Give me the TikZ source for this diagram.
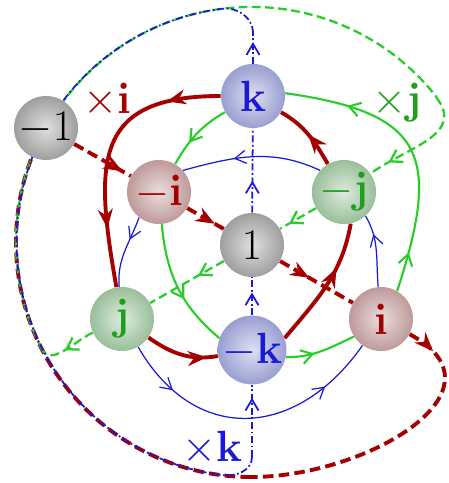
\documentclass[tikz,border=0pt]{standalone}
\usepackage{amsmath,amssymb}
\usetikzlibrary{arrows.meta,decorations.markings,backgrounds}

\definecolor{ired}{RGB}{165,0,0}
\definecolor{jgreen}{RGB}{40,205,40}
\definecolor{jtext}{RGB}{30,160,30}
\definecolor{kblue}{RGB}{25,25,215}
\definecolor{onegray}{RGB}{165,165,165}
\definecolor{iball}{RGB}{198,160,160}
\definecolor{jball}{RGB}{160,198,160}
\definecolor{kball}{RGB}{160,165,218}

\begin{document}
\begin{tikzpicture}[x=0.2mm,y=0.2mm,
  vertex/.style={circle,minimum size=12.8mm,inner sep=0pt,font=\fontsize{25}{25}\selectfont,inner color=#1!35!white,outer color=#1!96!black},
  lbl/.style={font=\fontsize{25}{25}\selectfont},
  ri/.style={ired,line width=2.2pt},
  rdash/.style={ired,line width=2.2pt,dash pattern=on 6pt off 3pt},
  gj/.style={jgreen,line width=1.2pt},
  gdash/.style={jgreen,line width=1.3pt,dash pattern=on 5pt off 2.5pt},
  bk/.style={kblue,line width=0.7pt},
  bdash/.style={kblue,line width=1pt,dash pattern=on 4pt off 1.5pt on 1pt off 1.5pt},
  rarr/.style={postaction={decorate,decoration={markings,mark=at position #1 with {\pgfsetdash{}{0pt}\arrow{Stealth[length=3.8mm,width=3mm]}}}}},
  garr/.style={postaction={decorate,decoration={markings,mark=at position #1 with {\pgfsetdash{}{0pt}\arrow{Straight Barb[length=2.2mm,width=2.8mm]}}}}},
  barr/.style={postaction={decorate,decoration={markings,mark=at position #1 with {\pgfsetdash{}{0pt}\arrow{Straight Barb[length=2.2mm,width=2.6mm]}}}}}]
	\useasboundingbox (-252,-238) rectangle (196,245);
	\node at (0,0) [vertex=onegray] (one) {$1$};
	\node at (1,149) [vertex=kball,text=kblue] (k) {$\mathbf{k}$};
	\node at (0,-105) [vertex=kball,text=kblue] (mk) {$-\mathbf{k}$};
	\node at (-206,117) [vertex=onegray] (m1) {$-1$};
	\node at (-93,53) [vertex=iball,text=ired] (mi) {$-\mathbf{i}$};
	\node at (129,-74) [vertex=iball,text=ired] (i) {$\mathbf{i}$};
	\node at (92,53) [vertex=jball,text=jtext] (mj) {$-\mathbf{j}$};
	\node at (-130,-74) [vertex=jball,text=jtext] (j) {$\mathbf{j}$};
	\node at (-145,145) [lbl,text=ired] (xi) {$\times\mathbf{i}$};
	\node at (145,142) [lbl,text=jtext] (xj) {$\times\mathbf{j}$};
	\node at (-40,-203) [lbl,text=kblue] (xk) {$\times\mathbf{k}$};
	% points on the outer circle, centre (-1,3), radius 235
	\coordinate (ktop) at (1,212);
	\coordinate (kbot) at (0,-212);
	\coordinate (bjoin) at (-29.6,236.3);
	\coordinate (gjoin) at (-210.4,-103.7);
	\coordinate (gturn) at (184.2,147.7);
	\coordinate (obot) at (-1,-232);
	\begin{pgfonlayer}{background}
	% outer returns to -1
	\draw[rdash,rarr=0.1] (i) to[out=-28,in=0,looseness=1.4] (obot);
	\draw[rdash] (obot) arc[start angle=270,end angle=151,radius=235];
	\draw[gdash,garr=0.55] (j) to[out=205,in=-63] (gjoin);
	\draw[gdash] (gjoin) arc[start angle=207,end angle=151,radius=235];
	\draw[gdash] (m1.center) arc[start angle=151,end angle=38,radius=235];
	\draw[gdash,garr=0.82] (gturn) to[out=-52,in=35,looseness=1.2] (mj);
	\draw[bdash,barr=0.7] (k) -- (ktop);
	\draw[bdash] (ktop) to[out=90,in=7] (bjoin) arc[start angle=97,end angle=151,radius=235];
	\draw[bdash] (m1.center) arc[start angle=151,end angle=263,radius=235] to[out=-7,in=-90] (kbot);
	\draw[bdash,barr=0.82] (kbot) -- (mk);
	% lines through 1
	\draw[rdash,rarr=0.85] (m1) -- (mi);
	\draw[rdash,rarr=0.75] (mi) -- (one);
	\draw[rdash,rarr=0.4] (one) -- (i);
	\draw[gdash,garr=0.75] (mj) -- (one);
	\draw[gdash,garr=0.35] (one) -- (j);
	\draw[bdash,barr=0.6] (mk) -- (one);
	\draw[bdash,barr=0.38] (one) -- (k);
	% times i
	\draw[ri,rarr=0.2,rarr=0.78] (k) to[out=180,in=100,looseness=1.5] (j);
	\draw[ri,rarr=0.85] (j) to[out=-35,in=190] (mk);
	\draw[ri,rarr=0.65] (mk.20) to[out=50,in=-100] (mj.-78);
	\draw[ri,rarr=0.5] (mj) to[out=120,in=-30] (k);
	% times j
	\draw[gj,garr=0.14,garr=0.78] (i.60) to[out=72,in=-8,looseness=1.6] (k.5);
	\draw[gj,garr=0.65] (k) to[out=210,in=60] (mi);
	\draw[gj,garr=0.6] (mi) to[out=-85,in=140] (mk.160);
	\draw[gj,garr=0.4] (mk.-12) to[out=0,in=205] (i.213);
	% times k
	\draw[bk,barr=0.73] (i) to[out=95,in=-60] (mj.-48);
	\draw[bk,barr=0.63] (mj.138) to[out=155,in=15] (mi.42);
	\draw[bk,barr=0.33] (mi.232) to[out=250,in=95] (j);
	\draw[bk,barr=0.2,barr=0.8] (j) to[out=-60,in=-125,looseness=1.3] (i);
	\end{pgfonlayer}
\end{tikzpicture}
\end{document}
